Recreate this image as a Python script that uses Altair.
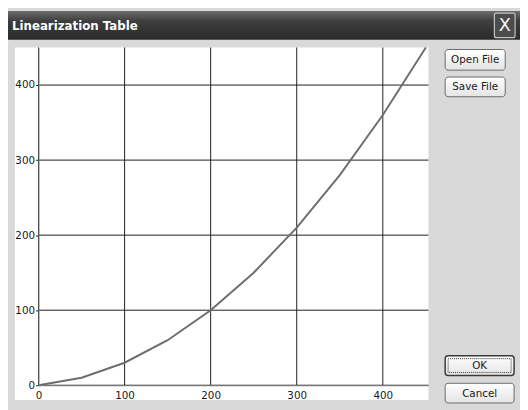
import altair as alt
import pandas as pd

# ---- data ----
x_vals = [0, 50, 100, 150, 200, 250, 300, 350, 400, 450]
y_vals = [0, 10, 30, 60, 100, 150, 210, 280, 360, 450]
x_ticks = [0, 100, 200, 300, 400]
y_ticks = [0, 100, 200, 300, 400]
window_title = "Linearization Table"
button_labels = ["Open File", "Save File", "OK", "Cancel"]

df = pd.DataFrame({"input": x_vals, "output": y_vals})
xt = pd.DataFrame({"input": x_ticks})
yt = pd.DataFrame({"output": y_ticks})
one = pd.DataFrame({"k": [0]})

W, H = 396, 343
FONT = "DejaVu Sans"
XS = alt.Scale(domain=[0, 453], nice=False)
YS = alt.Scale(domain=[0, 450], nice=False)

base = alt.Chart(one)


def box(x, x2, y, y2, **kw):
    return base.mark_rect(**kw).encode(
        x=alt.value(x), x2=alt.value(x2), y=alt.value(y), y2=alt.value(y2)
    )


def label(x, y, text, **kw):
    return base.mark_text(**kw).encode(
        x=alt.value(x), y=alt.value(y), text=alt.value(text)
    )


title_grad = alt.Gradient(
    gradient="linear",
    stops=[
        alt.GradientStop(color="#6c6c6c", offset=0),
        alt.GradientStop(color="#3e3e3e", offset=0.35),
        alt.GradientStop(color="#2a2a2a", offset=1),
    ],
    x1=0, x2=0, y1=0, y2=1,
)
btn_grad = alt.Gradient(
    gradient="linear",
    stops=[
        alt.GradientStop(color="#ffffff", offset=0),
        alt.GradientStop(color="#e4e4e4", offset=1),
    ],
    x1=0, x2=0, y1=0, y2=1,
)

title_bar = box(-31, 489, -37, -8, color=title_grad)
title_txt = label(-27, -22, window_title, font=FONT, fontSize=12, fontWeight="bold",
                  color="white", align="left", baseline="middle")
close_box = box(463, 484, -35, -10, fill="#4c4c4c", stroke="#c4c4c4", strokeWidth=1.2,
                cornerRadius=2)
close_txt = label(473.5, -22, "X", font=FONT, fontSize=18, color="#f2f2f2",
                  align="center", baseline="middle")
panel = box(-24, 396, 0, 358, fill="white")


def button(x, x2, y, y2, text, focus=False):
    layers = [box(x, x2, y, y2, color=btn_grad, stroke="#3a3a3a" if focus else "#6a6a6a",
                  strokeWidth=1.5 if focus else 1, cornerRadius=3)]
    if focus:
        layers.append(box(x + 3, x2 - 3, y + 3, y2 - 3, fill="transparent", stroke="#333333",
                          strokeWidth=1, strokeDash=[1, 1]))
    layers.append(label((x + x2) / 2, (y + y2) / 2 + 0.5, text, font=FONT, fontSize=10.5,
                        color="#1a1a1a", align="center", baseline="middle"))
    return layers


buttons = (
    button(413, 474, 2, 23, button_labels[0])
    + button(413, 474, 30, 50, button_labels[1])
    + button(413, 483, 313, 333, button_labels[2], focus=True)
    + button(413, 483, 341, 361, button_labels[3])
)

vgrid = alt.Chart(xt).mark_rule(color="#1e1e1e", strokeWidth=1).encode(
    x=alt.X("input:Q", scale=XS), y=alt.value(0), y2=alt.value(H)
)
hgrid = alt.Chart(yt).mark_rule(color="#1e1e1e", strokeWidth=1).encode(
    y=alt.Y("output:Q", scale=YS), x=alt.value(0), x2=alt.value(W)
)

curve = alt.Chart(df).mark_line(color="#6e6e6e", strokeWidth=2).encode(
    x=alt.X(
        "input:Q",
        scale=XS,
        axis=alt.Axis(
            title=None, values=x_ticks, grid=False, zindex=1,
            domainColor="#808080", ticks=False, labelFlush=False, labelPadding=5,
            labelFont=FONT, labelFontSize=10.5, labelColor="#1a1a1a",
        ),
    ),
    y=alt.Y(
        "output:Q",
        scale=YS,
        axis=alt.Axis(
            title=None, values=y_ticks, grid=False, zindex=1,
            domainColor="#808080", tickColor="#1e1e1e", tickSize=3, labelPadding=1,
            labelFont=FONT, labelFontSize=10.5, labelColor="#1a1a1a",
        ),
    ),
)

chart = (
    alt.layer(panel, vgrid, hgrid, curve, title_bar, title_txt, close_box, close_txt, *buttons)
    .properties(
        width=W,
        height=H,
        padding={"left": 31, "top": 37, "right": 93, "bottom": 22},
        autosize=alt.AutoSizeParams(type="none"),
        background="#d9d9d9",
    )
    .configure_view(stroke=None)
)

chart.save("out.html", embed_options={"renderer": "svg", "actions": False})
